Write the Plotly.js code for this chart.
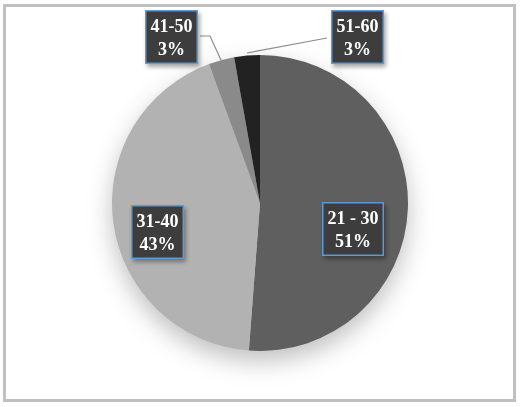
<!DOCTYPE html>
<html>
<head>
<meta charset="utf-8">
<script src="https://cdn.plot.ly/plotly-3.0.1.min.js"></script>
<style>
html,body{margin:0;padding:0;background:#fff;}
#chart{width:520px;height:407px;}
.pielayer{filter:drop-shadow(0px 10px 12px rgba(0,0,0,0.25));}
.annotation{filter:drop-shadow(2px 3px 2px rgba(0,0,0,0.35));}
</style>
</head>
<body>
<div id="chart"></div>
<script>
// Data
const categories = ['21 - 30', '31-40', '41-50', '51-60'];
const values = [51.2, 43.2, 2.8, 2.8];
const percentLabels = ['51%', '43%', '3%', '3%'];
const sliceColors = ['#5f5f5f', '#b2b2b2', '#8a8a8a', '#222222'];

const W = 520, H = 407;
const px = x => x / W;
const py = y => 1 - y / H;

// label box centres (pixels)
const labelPos = [[353, 229], [157, 232], [171, 37], [357, 37]];

const trace = {
  type: 'pie',
  labels: categories,
  values: values,
  sort: false,
  direction: 'clockwise',
  rotation: 0,
  textinfo: 'none',
  hoverinfo: 'label+percent',
  marker: {colors: sliceColors, line: {width: 0}},
  domain: {x: [px(112), px(408)], y: [py(351), py(55)]},
  showlegend: false
};

const annotations = categories.map((c, i) => ({
  xref: 'paper', yref: 'paper',
  x: px(labelPos[i][0]), y: py(labelPos[i][1]),
  xanchor: 'center', yanchor: 'middle',
  text: c + '<br>' + percentLabels[i],
  showarrow: false,
  font: {family: 'Liberation Serif, Times New Roman, serif', size: 18, color: '#ffffff', weight: 'bold'},
  bgcolor: '#3d3d3d',
  bordercolor: '#5b9bd5',
  borderwidth: 1.5,
  borderpad: 4
}));

const shapes = [
  {type: 'rect', xref: 'paper', yref: 'paper', x0: px(4.5), x1: px(514.5), y0: py(400.5), y1: py(5.5),
   line: {color: '#c0c0c0', width: 3}},
  {type: 'path', xref: 'paper', yref: 'paper',
   path: `M ${px(200)} ${py(36)} L ${px(210)} ${py(36)} L ${px(221)} ${py(60)}`,
   line: {color: '#8c8c8c', width: 1.2}},
  {type: 'path', xref: 'paper', yref: 'paper',
   path: `M ${px(327)} ${py(38)} L ${px(247)} ${py(53)}`,
   line: {color: '#8c8c8c', width: 1.2}}
];

const layout = {
  width: W, height: H,
  margin: {l: 0, r: 0, t: 0, b: 0},
  paper_bgcolor: '#ffffff',
  plot_bgcolor: '#ffffff',
  showlegend: false,
  annotations: annotations,
  shapes: shapes
};

Plotly.newPlot('chart', [trace], layout, {displayModeBar: false, staticPlot: true});
</script>
</body>
</html>
